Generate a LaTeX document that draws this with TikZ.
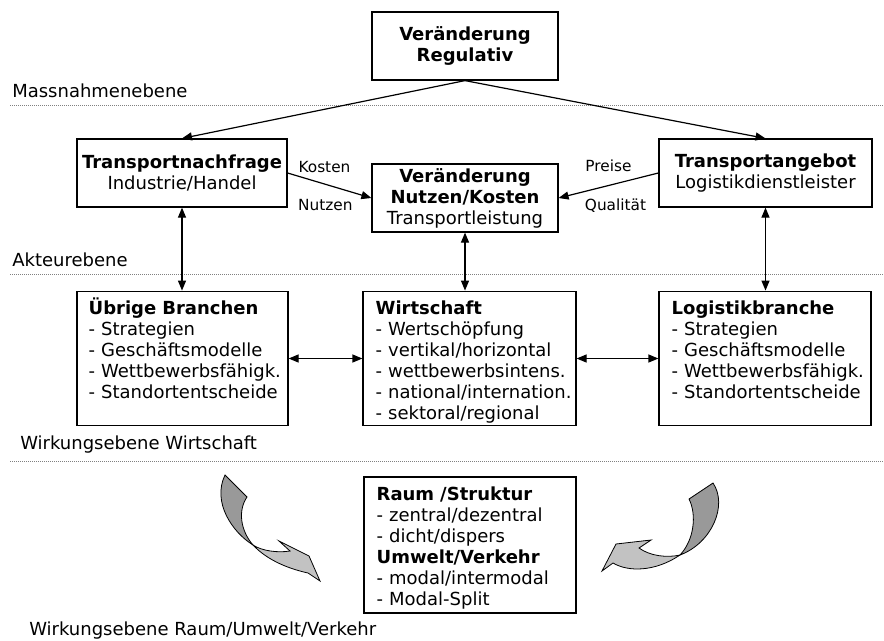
\documentclass[tikz,border=0pt]{standalone}
\usepackage{fontspec}
\setmainfont{DejaVu Sans}
\usepackage{tikz}
\usetikzlibrary{arrows.meta,positioning,calc}
\definecolor{WirkDark}{HTML}{999999}
\definecolor{WirkLight}{HTML}{C2C2C2}
\definecolor{EbeneGray}{HTML}{808080}

\begin{document}
\begin{tikzpicture}[x=0.75pt,y=-0.75pt,
    every node/.style={font=\fontsize{13.5pt}{15.75pt}\selectfont},
    frame/.style={draw,line width=0.9pt,inner sep=0pt},
    listtext/.style={align=left,text width=150pt,inner sep=0pt,anchor=base west},
    ebene/.style={anchor=west,inner sep=0pt},
    lbl/.style={font=\fontsize{11.5pt}{13pt}\selectfont,inner sep=0pt},
    pfeil/.style={line width=0.9pt,-{Triangle[length=7.5pt,width=6pt]}},
    doppel/.style={line width=0.9pt,{Triangle[length=7.5pt,width=6pt]}-{Triangle[length=7.5pt,width=6pt]}}]
  \useasboundingbox (0,0) rectangle (884,640);

  % Ebenen
  \draw[EbeneGray,densely dotted,line width=0.5pt] (10,105) -- (884,105);
  \draw[EbeneGray,densely dotted,line width=0.5pt] (10,274) -- (884,274);
  \draw[EbeneGray,densely dotted,line width=0.5pt] (10,461) -- (884,461);
  \node[ebene] (mass) at (12,91) {Massnahmenebene};
  \node[ebene] (akt) at (12,260) {Akteurebene};
  \node[ebene] (wirk) at (20,445) {Wirkungsebene Wirtschaft};
  \node[ebene] (raumeb) at (29,631) {Wirkungsebene Raum/Umwelt/Verkehr};

  % Boxen oben
  \node[frame,minimum width=139.5pt,minimum height=51pt,align=center] (reg) at (465,46)
    {\textbf{Veränderung}\\\textbf{Regulativ}};
  \node[frame,minimum width=157.5pt,minimum height=51pt,align=center] (nach) at (182,173)
    {\textbf{Transportnachfrage}\\Industrie/Handel};
  \node[frame,minimum width=139.5pt,minimum height=51pt,align=center] (nutz) at (465,198)
    {\textbf{Veränderung}\\\textbf{Nutzen/Kosten}\\Transportleistung};
  \node[frame,minimum width=159.75pt,minimum height=51pt,align=center] (angeb) at (765.5,173)
    {\textbf{Transportangebot}\\Logistikdienstleister};

  % Boxen Wirtschaft
  \node[frame,minimum width=158.25pt,minimum height=101pt] (ueb) at (182.5,358.5) {};
  \node[listtext] (uebtxt) at ([shift={(12,24)}]ueb.north west)
    {\textbf{Übrige Branchen}\\- Strategien\\- Geschäftsmodelle\\- Wettbewerbsfähigk.\\- Standortentscheide};
  \node[frame,minimum width=159.75pt,minimum height=101pt] (wirt) at (469.5,358.5) {};
  \node[listtext] (wirttxt) at ([shift={(13,24)}]wirt.north west)
    {\textbf{Wirtschaft}\\- Wertschöpfung\\- vertikal/horizontal\\- wettbewerbsintens.\\- national/internation.\\- sektoral/regional};
  \node[frame,minimum width=159pt,minimum height=101pt] (log) at (765,358.5) {};
  \node[listtext] (logtxt) at ([shift={(13,24)}]log.north west)
    {\textbf{Logistikbranche}\\- Strategien\\- Geschäftsmodelle\\- Wettbewerbsfähigk.\\- Standortentscheide};

  % Box Raum/Umwelt
  \node[frame,minimum width=159pt,minimum height=102pt] (raum) at (470,545) {};
  \node[listtext] (raumtxt) at ([shift={(13,24)}]raum.north west)
    {\textbf{Raum /Struktur}\\- zentral/dezentral\\- dicht/dispers\\\textbf{Umwelt/Verkehr}\\- modal/intermodal\\- Modal-Split};

  % Pfeile
  \draw[pfeil] (reg.south) -- (nach.north);
  \draw[pfeil] (reg.south) -- (angeb.north);
  \draw[pfeil] (nach.east) -- (nutz.west)
    node[lbl,pos=0.44,above=8pt] {Kosten}
    node[lbl,pos=0.45,below=11pt] {Nutzen};
  \draw[pfeil] (angeb.west) -- (nutz.east)
    node[lbl,pos=0.5,above=10pt] {Preise}
    node[lbl,pos=0.43,below=11pt] {Qualität};
  \draw[doppel] (nach.south) -- (nach.south |- ueb.north);
  \draw[doppel] (nutz.south) -- (nutz.south |- wirt.north);
  \draw[doppel] (angeb.south) -- (angeb.south |- log.north);
  \draw[doppel] (ueb.east) -- (wirt.west);
  \draw[doppel] (wirt.east) -- (log.west);

  % Wirkungspfeile
  \filldraw[fill=WirkDark,line width=0.6pt] (225,475) -- (247,497)
    .. controls (238,510) and (240,530) .. (253,545)
    .. controls (232,532) and (212,502) .. (225,475) -- cycle;
  \filldraw[fill=WirkLight,line width=0.6pt] (253,545)
    .. controls (262,551) and (278,553) .. (290,551) -- (279,541) -- (309,556)
    -- (320,581) -- (308,573)
    .. controls (290,569) and (268,561) .. (253,545) -- cycle;
  \filldraw[fill=WirkDark,line width=0.6pt] (713,483) -- (689,499)
    .. controls (697,515) and (694,540) .. (680,555)
    .. controls (712,543) and (728,505) .. (713,483) -- cycle;
  \filldraw[fill=WirkLight,line width=0.6pt] (680,555)
    .. controls (667,558) and (650,556) .. (639,548) -- (651,540) -- (616,544)
    -- (602,571) -- (613,563)
    .. controls (628,572) and (655,572) .. (680,555) -- cycle;
\end{tikzpicture}
\end{document}
